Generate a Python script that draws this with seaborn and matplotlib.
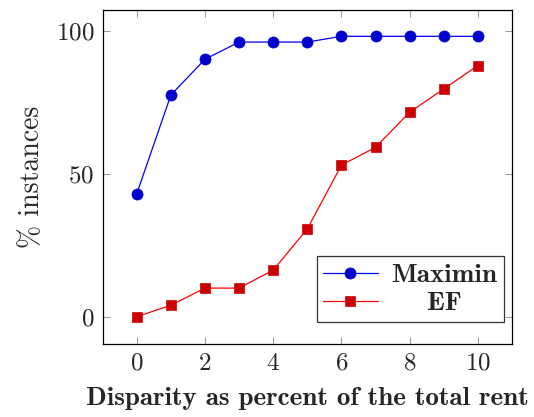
import pandas as pd
import matplotlib
matplotlib.use('Agg')
import matplotlib.pyplot as plt
import seaborn as sns

# Dữ liệu
disparity = [0, 1, 2, 3, 4, 5, 6, 7, 8, 9, 10]
maximin = [43, 77.5, 90, 96, 96, 96, 98, 98, 98, 98, 98]
ef = [0, 4, 10, 10, 16.3, 30.7, 53, 59.2, 71.5, 79.6, 87.8]

df = pd.concat([
    pd.DataFrame({'x': disparity, 'y': maximin, 'method': 'Maximin'}),
    pd.DataFrame({'x': disparity, 'y': ef, 'method': 'EF'}),
])

sns.set_style('ticks')
plt.rcParams['font.family'] = ['cmr10', 'DejaVu Serif']
plt.rcParams['axes.formatter.use_mathtext'] = True
plt.rcParams['mathtext.fontset'] = 'cm'

fig = plt.figure(figsize=(5.34, 4.17), dpi=100)
ax = fig.add_axes([0.1923, 0.1743, 0.7665, 0.8017])

styles = {'Maximin': ('blue', '#0000cc', 'o', 8.0), 'EF': ('red', '#cc0000', 's', 7.5)}
for name, (lc, fc, mk, ms) in styles.items():
    sub = df[df['method'] == name]
    sns.lineplot(data=sub, x='x', y='y', ax=ax, color=lc, linewidth=0.9,
                 marker=mk, markersize=ms, markerfacecolor=fc,
                 markeredgecolor=fc, markeredgewidth=0.5, label=name)

ax.set_xlim(-1, 11)
ax.set_ylim(-9.65, 107.2)
ax.set_xticks([0, 2, 4, 6, 8, 10])
ax.set_yticks([0, 50, 100])
ax.tick_params(direction='in', top=True, right=True, length=5, width=0.6,
               labelsize=18, color='#888888', pad=6)
for s in ax.spines.values():
    s.set_linewidth(0.9)
    s.set_color('black')

ax.set_xlabel('Disparity as percent of the total rent', fontsize=19.5,
              family=['cmb10', 'DejaVu Serif'], labelpad=9)
ax.set_ylabel('% instances', fontsize=20, family=['cmr10', 'DejaVu Serif'], labelpad=8)

leg = ax.legend(loc='lower right', frameon=True, fancybox=False, edgecolor='black',
                prop={'family': ['cmb10', 'DejaVu Serif'], 'size': 19.5},
                handlelength=2.0, borderpad=0.25, labelspacing=0.15, handletextpad=0.5,
                borderaxespad=0, bbox_to_anchor=(0.980, 0.067))
leg.get_frame().set_linewidth(0.9)
# căn giữa chữ "EF" như bản gốc
leg.get_texts()[1].set_text('    EF')

fig.savefig('out.png', dpi=100)
